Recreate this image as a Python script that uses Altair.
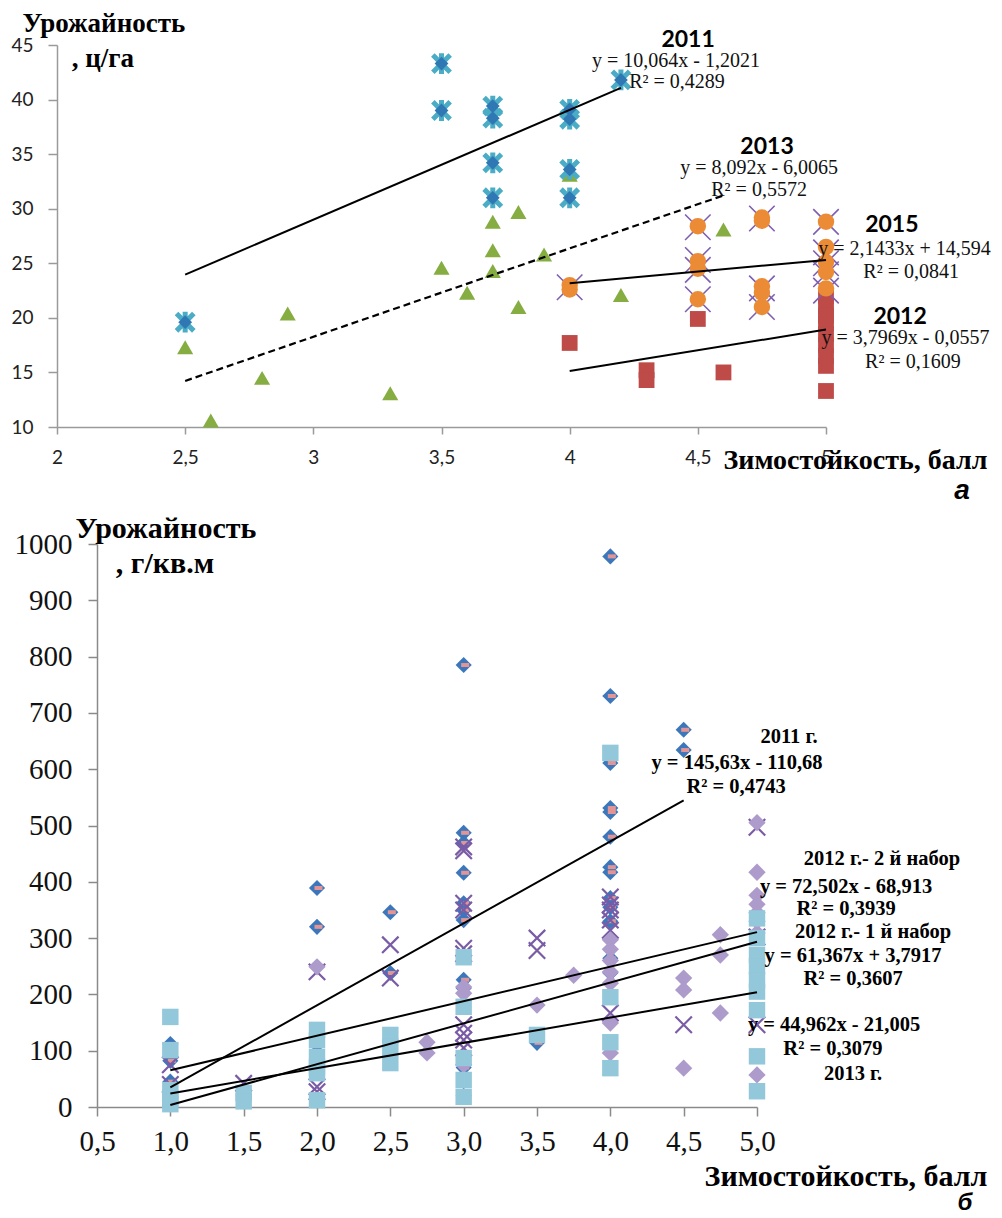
import altair as alt
import pandas as pd

# ============ Panel "а" (ц/га) ============
a2011_x = [2.5, 3.5, 3.5, 3.7, 3.7, 3.7, 3.7, 4.0, 4.0, 4.0, 4.0, 4.2]
a2011_y = [19.6, 43.3, 39.0, 39.4, 38.3, 34.2, 31.0, 39.1, 38.2, 33.6, 31.0, 41.8]

a2013_x = [2.5, 2.6, 2.8, 2.9, 3.3, 3.5, 3.6, 3.7, 3.7, 3.7, 3.8, 3.8, 3.9, 4.0, 4.2, 4.6]
a2013_y = [17.3, 10.6, 14.5, 20.4, 13.1, 24.6, 22.3, 28.8, 26.2, 24.3, 29.7, 21.0, 25.8, 33.1, 22.1, 28.1]

a2015_x = [4.0, 4.0, 4.5, 4.5, 4.5, 4.5, 4.75, 4.75, 4.75, 4.75, 4.75, 5.0, 5.0, 5.0, 5.0, 5.0]
a2015_y = [23.0, 22.6, 28.4, 25.2, 24.5, 21.7, 29.2, 28.9, 22.9, 22.3, 21.0, 28.8, 26.5, 25.1, 24.2, 22.7]

a2014_x = [4.0, 4.5, 4.5, 4.5, 4.5, 4.75, 4.75, 4.75, 5.0, 5.0, 5.0, 5.0, 5.0]
a2014_y = [22.8, 28.3, 25.3, 24.4, 21.7, 29.1, 22.7, 21.0, 28.8, 26.0, 25.0, 24.0, 22.5]

a2012_x = [4.0, 4.3, 4.3, 4.5, 4.6, 5.0, 5.0, 5.0, 5.0, 5.0, 5.0, 5.0, 5.0, 5.0]
a2012_y = [17.7, 15.2, 14.3, 19.9, 15.0, 22.0, 21.0, 20.2, 19.5, 18.5, 17.5, 16.5, 15.6, 13.3]

a_trend_id = ["2011", "2011", "2015", "2015", "2012", "2012"]
a_trend_x = [2.5, 4.2, 4.0, 5.0, 4.0, 5.0]
a_trend_y = [23.96, 41.07, 23.17, 25.31, 15.13, 18.93]
a_dash_x = [2.5, 4.6]
a_dash_y = [14.22, 31.22]

a_year_text = ["2011", "2013", "2015", "2012"]
a_year_x = [4.462, 4.770, 5.257, 5.289]
a_year_y = [45.46, 35.65, 28.51, 20.08]

a_eq_text = ["y = 10,064x - 1,2021", "R² = 0,4289",
             "y = 8,092x - 6,0065", "R² = 0,5572",
             "y = 2,1433x + 14,594", "R² = 0,0841",
             "y = 3,7969x - 0,0557", "R² = 0,1609"]
a_eq_x = [4.415, 4.419, 4.739, 4.739, 5.306, 5.332, 5.310, 5.339]
a_eq_y = [43.53, 41.61, 33.73, 31.72, 26.31, 24.20, 18.15, 15.96]

a_title_text = ["Урожайность", ", ц/га"]
a_title_x = [2.183, 2.179]
a_title_y = [46.93, 43.72]

a_xtitle_text = ["Зимостойкость, балл"]
a_xtitle_x = [5.115]
a_xtitle_y = [6.885]
a_letter_text = ["а"]
a_letter_x = [5.531]
a_letter_y = [4.136]

a_xticks = [2, 2.5, 3, 3.5, 4, 4.5, 5]
a_yticks = [10, 15, 20, 25, 30, 35, 40, 45]

# ============ Panel "б" (г/кв.м) ============
b2011_x = [1.0, 1.0, 1.0, 1.0, 1.0, 1.5, 2.0, 2.0, 2.0, 2.0, 2.5, 2.5,
           3.0, 3.0, 3.0, 3.0, 3.0, 3.0, 3.0, 3.0, 3.0, 3.0, 3.0, 3.5,
           4.0, 4.0, 4.0, 4.0, 4.0, 4.0, 4.0, 4.0, 4.0, 4.0, 4.0, 4.0, 4.0,
           4.5, 4.5]
b2011_y = [112, 82, 45, 30, 15, 20, 389, 320, 110, 80, 346, 238,
           785, 487, 469, 416, 362, 350, 332, 226, 211, 70, 20, 114,
           978, 730, 611, 531, 524, 480, 426, 417, 371, 355, 330, 264, 238,
           670, 634]

b2012b_x = [1.0, 1.0, 1.5, 2.0, 2.0, 2.0, 2.5, 2.5,
            3.0, 3.0, 3.0, 3.0, 3.0, 3.0, 3.0, 3.0, 3.0, 3.0,
            3.5, 3.5, 4.0, 4.0, 4.0, 4.0, 4.0, 4.0, 4.5, 5.0, 5.0, 5.0]
b2012b_y = [75, 40, 42, 240, 36, 27, 288, 229,
            462, 455, 362, 350, 282, 272, 146, 131, 119, 105,
            300, 278, 373, 359, 350, 332, 314, 167, 146, 497, 302, 146]

b2012a_x = [2.0, 2.75, 2.75, 3.0, 3.0, 3.0, 3.5, 3.75,
            4.0, 4.0, 4.0, 4.0, 4.0, 4.0, 4.0, 4.5, 4.5, 4.5,
            4.75, 4.75, 4.75, 5.0, 5.0, 5.0, 5.0, 5.0, 5.0, 5.0, 5.0]
b2012a_y = [249, 115, 96, 213, 202, 75, 181, 234,
            297, 280, 260, 240, 220, 149, 96, 229, 208, 69,
            306, 270, 167, 505, 417, 376, 360, 345, 330, 309, 57]

b2013_x = [1.0, 1.0, 1.0, 1.0, 1.0, 1.5, 1.5, 2.0, 2.0, 2.0, 2.0, 2.0, 2.0,
           2.5, 2.5, 2.5, 3.0, 3.0, 3.0, 3.0, 3.0, 3.5,
           4.0, 4.0, 4.0, 4.0, 5.0, 5.0, 5.0, 5.0, 5.0, 5.0, 5.0, 5.0, 5.0]
b2013_y = [160, 101, 30, 15, 5, 25, 10, 137, 119, 89, 71, 60, 12,
           128, 107, 78, 266, 178, 87, 48, 18, 128,
           629, 195, 115, 69, 335, 300, 270, 250, 225, 205, 172, 90, 28]

b_trend_id = ["2011", "2011", "2012-2", "2012-2", "2012-1", "2012-1", "2013", "2013"]
b_trend_x = [1.0, 4.5, 1.0, 5.0, 1.0, 5.0, 1.0, 5.0]
b_trend_y = [35.0, 544.7, 3.6, 293.6, 65.2, 310.6, 24.0, 203.8]

b_lab_text = ["2011 г.", "y = 145,63x - 110,68", "R² = 0,4743",
              "2012 г.- 2 й набор", "y = 72,502x - 68,913", "R² = 0,3939",
              "2012 г.- 1 й набор", "y = 61,367x + 3,7917", "R² = 0,3607",
              "y = 44,962x - 21,005", "R² = 0,3079", "2013 г."]
b_lab_x = [5.218, 4.864, 4.857, 5.852, 5.607, 5.607, 5.791, 5.655, 5.655, 5.525, 5.518, 5.655]
b_lab_y = [657, 611, 568, 440, 391, 352, 311, 268, 227, 146, 103, 59]

b_title_text = ["Урожайность", ", г/кв.м"]
b_title_x = [0.970, 0.964]
b_title_y = [1027, 964.5]

b_xtitle_text = ["Зимостойкость, балл"]
b_xtitle_x = [5.607]
b_xtitle_y = [-124]
b_letter_text = ["б"]
b_letter_x = [6.418]
b_letter_y = [-170]

b_xticks = [0.5, 1.0, 1.5, 2.0, 2.5, 3.0, 3.5, 4.0, 4.5, 5.0]
b_yticks = [0, 100, 200, 300, 400, 500, 600, 700, 800, 900, 1000]

# ---------- helpers ----------
STAR = "M-1,-1L1,1M-1,1L1,-1M0,-1.2L0,1.2"
XSH = "M-1,-1L1,1M-1,1L1,-1"
DASH = "M-1,0L1,0"

AX_SCALE = alt.Scale(domain=[2, 5], nice=False, zero=False)
AY_SCALE = alt.Scale(domain=[10, 45], nice=False, zero=False)
BX_SCALE = alt.Scale(domain=[0.5, 5.0], nice=False, zero=False)
BY_SCALE = alt.Scale(domain=[0, 1000], nice=False, zero=False)

a_xaxis = alt.Axis(values=a_xticks, labelExpr="replace(toString(datum.value), '.', ',')",
                   title=None, grid=False, domainColor="#9a9a9a", tickColor="#9a9a9a",
                   domainWidth=1.5, tickWidth=1.5, tickSize=7, labelFont="Lato",
                   labelFontSize=19, labelColor="#222222", labelPadding=14, labelFlush=False,
                   labelOverlap=False)
a_yaxis = alt.Axis(values=a_yticks, title=None, grid=False, domainColor="#9a9a9a",
                   tickColor="#9a9a9a", domainWidth=1.5, tickWidth=1.5, tickSize=9,
                   labelFont="Lato", labelFontSize=19, labelColor="#222222", labelPadding=15,
                   labelFlush=False, labelOverlap=False)

b_xaxis = alt.Axis(values=b_xticks, labelExpr="replace(format(datum.value, '.1f'), '.', ',')",
                   title=None, grid=False, domainColor="#8a8a8a", tickColor="#8a8a8a",
                   domainWidth=1.5, tickWidth=1.5, tickSize=9, labelFont="Liberation Serif",
                   labelFontSize=29, labelColor="#111111", labelPadding=11, labelFlush=False,
                   labelOverlap=False)
b_yaxis = alt.Axis(values=b_yticks, labelExpr="toString(datum.value)", title=None, grid=False,
                   domainColor="#8a8a8a", tickColor="#8a8a8a", domainWidth=1.5, tickWidth=1.5,
                   tickSize=9, labelFont="Liberation Serif", labelFontSize=29,
                   labelColor="#111111", labelPadding=16, labelFlush=False, labelOverlap=False)


def df(xs, ys, extra=None):
    d = {"x": xs, "y": ys}
    if extra:
        d.update(extra)
    return pd.DataFrame(d)


def enc_a(chart, **kw):
    return chart.encode(
        x=alt.X("x:Q", scale=AX_SCALE, axis=a_xaxis),
        y=alt.Y("y:Q", scale=AY_SCALE, axis=a_yaxis),
        **kw,
    )


def enc_b(chart, **kw):
    return chart.encode(
        x=alt.X("x:Q", scale=BX_SCALE, axis=b_xaxis),
        y=alt.Y("y:Q", scale=BY_SCALE, axis=b_yaxis),
        **kw,
    )


# ---------- panel a layers ----------
a_sq = enc_a(alt.Chart(df(a2012_x, a2012_y)).mark_square(size=250, color="#BE4B48", opacity=1))
a_x14 = enc_a(alt.Chart(df(a2014_x, a2014_y)).mark_point(
    shape=XSH, size=650, color="#7E5FB0", strokeWidth=1.6, filled=False, opacity=1))
a_circ = enc_a(alt.Chart(df(a2015_x, a2015_y)).mark_circle(size=270, color="#EB8B35", opacity=1))
a_tri = enc_a(alt.Chart(df(a2013_x, a2013_y)).mark_point(
    shape="triangle-up", size=260, color="#86AD42", filled=True, opacity=1))
a_star = enc_a(alt.Chart(df(a2011_x, a2011_y)).mark_point(
    shape=STAR, size=300, color="#4BACC6", strokeWidth=5, filled=False, opacity=1))
a_star_c = enc_a(alt.Chart(df(a2011_x, a2011_y)).mark_point(
    shape="diamond", size=190, color="#2F78B4", filled=True, opacity=1))
a_lines = enc_a(alt.Chart(df(a_trend_x, a_trend_y, {"id": a_trend_id})).mark_line(
    color="black", strokeWidth=2), detail="id:N")
a_dash = enc_a(alt.Chart(df(a_dash_x, a_dash_y)).mark_line(
    color="black", strokeWidth=2.2, strokeDash=[7, 4]))

a_years = enc_a(alt.Chart(df(a_year_x, a_year_y, {"t": a_year_text})).mark_text(
    font="Lato", fontSize=23, fontWeight="bold", color="black"), text="t:N")
a_eqs = enc_a(alt.Chart(df(a_eq_x, a_eq_y, {"t": a_eq_text})).mark_text(
    font="Liberation Serif", fontSize=20, color="#111111"), text="t:N")
a_title = enc_a(alt.Chart(df(a_title_x, a_title_y, {"t": a_title_text})).mark_text(
    font="Liberation Serif", fontSize=27, fontWeight="bold", color="black"), text="t:N")
a_xtitle = enc_a(alt.Chart(df(a_xtitle_x, a_xtitle_y, {"t": a_xtitle_text})).mark_text(
    font="Liberation Serif", fontSize=28, fontWeight="bold", color="black"), text="t:N")
a_letter = enc_a(alt.Chart(df(a_letter_x, a_letter_y, {"t": a_letter_text})).mark_text(
    font="Liberation Sans", fontSize=28, fontWeight="bold", fontStyle="italic", color="black"),
    text="t:N")

top = alt.layer(a_sq, a_x14, a_circ, a_tri, a_star, a_star_c, a_lines, a_dash,
                a_years, a_eqs, a_title, a_xtitle, a_letter).properties(width=769, height=382)

# ---------- panel b layers ----------
b_dia = enc_b(alt.Chart(df(b2011_x, b2011_y)).mark_point(
    shape="diamond", size=260, color="#3D77BB", filled=True, opacity=1))
b_dash = enc_b(alt.Chart(df(b2011_x, b2011_y)).mark_point(
    shape=DASH, size=64, color="#E39595", strokeWidth=4, filled=False, opacity=1, xOffset=1.5))
b_x = enc_b(alt.Chart(df(b2012b_x, b2012b_y)).mark_point(
    shape=XSH, size=270, color="#7A5BA6", strokeWidth=2.2, filled=False, opacity=1))
b_lav = enc_b(alt.Chart(df(b2012a_x, b2012a_y)).mark_point(
    shape="diamond", size=300, color="#AD9BCB", filled=True, opacity=1))
b_sq = enc_b(alt.Chart(df(b2013_x, b2013_y)).mark_square(size=270, color="#93C7DA", opacity=1))
b_lines = enc_b(alt.Chart(df(b_trend_x, b_trend_y, {"id": b_trend_id})).mark_line(
    color="black", strokeWidth=2), detail="id:N")
b_labs = enc_b(alt.Chart(df(b_lab_x, b_lab_y, {"t": b_lab_text})).mark_text(
    font="Liberation Serif", fontSize=20.5, fontWeight="bold", color="black"), text="t:N")
b_title = enc_b(alt.Chart(df(b_title_x, b_title_y, {"t": b_title_text})).mark_text(
    font="Liberation Serif", fontSize=30, fontWeight="bold", color="black"), text="t:N")
b_xtitle = enc_b(alt.Chart(df(b_xtitle_x, b_xtitle_y, {"t": b_xtitle_text})).mark_text(
    font="Liberation Serif", fontSize=30, fontWeight="bold", color="black"), text="t:N")
b_letter = enc_b(alt.Chart(df(b_letter_x, b_letter_y, {"t": b_letter_text})).mark_text(
    font="Liberation Sans", fontSize=24, fontWeight="bold", fontStyle="italic", color="black"),
    text="t:N")

bottom = alt.layer(b_dia, b_dash, b_x, b_lav, b_sq, b_lines, b_labs, b_title, b_xtitle,
                   b_letter).properties(width=660, height=563)

spacer = alt.Chart(pd.DataFrame({"v": [0]})).mark_point(opacity=0).encode(
    x=alt.value(0), y=alt.value(0)).properties(width=40, height=1)

row2 = alt.hconcat(spacer, bottom, spacing=0, bounds="flush")

chart = alt.vconcat(top, row2, spacing=117, bounds="flush").properties(
    padding={"left": 2, "top": 1, "right": 0, "bottom": 0},
    background="white",
).configure_view(stroke=None)

chart.save("out.html", embed_options={"renderer": "svg", "actions": False})
